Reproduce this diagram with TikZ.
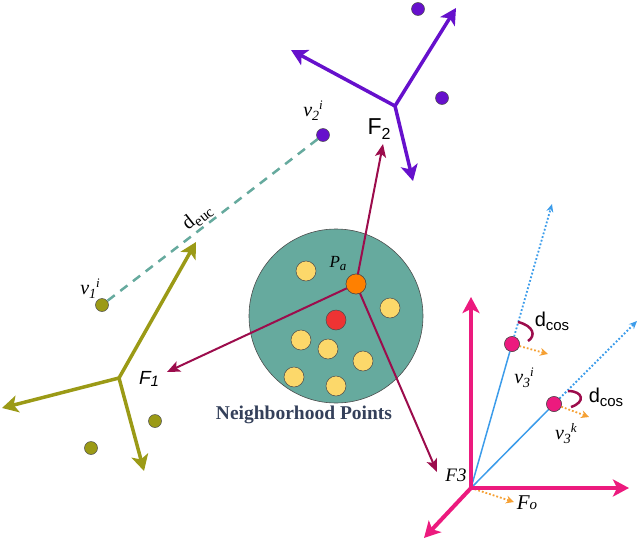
\documentclass[tikz,border=0pt]{standalone}
\usepackage{fontspec}
\setmainfont{Liberation Serif}
\setsansfont{Liberation Sans}
\usetikzlibrary{arrows.meta}
\definecolor{cPur}{HTML}{6610CC}
\definecolor{cOl}{HTML}{9B9A16}
\definecolor{cTeal}{HTML}{66AA9E}
\definecolor{cMar}{HTML}{9C0C4C}
\definecolor{cPink}{HTML}{EC1A7E}
\definecolor{cBlue}{HTML}{3C9CEA}
\definecolor{cOr}{HTML}{F5A033}
\definecolor{cYel}{HTML}{FCD86A}
\definecolor{cPa}{HTML}{FF8000}
\definecolor{cRed}{HTML}{EE3333}
\definecolor{cNb}{HTML}{34405A}
\newcommand{\vlab}[2]{\textit{v}\raisebox{-4pt}{\fontsize{14}{14}\selectfont\textit{#1}}\raisebox{7pt}{\fontsize{13}{13}\selectfont\textit{#2}}}
\tikzset{
  dot/.style={circle, draw=black!70, line width=0.5pt, inner sep=0pt},
  sdot/.style={dot, minimum size=13pt},
  bdot/.style={dot, minimum size=20pt},
  farrow/.style={line width=3.5pt, -{Stealth[length=16pt,width=17pt,inset=4pt]}},
  marrow/.style={cMar, line width=2pt, -{Stealth[length=13pt,width=11pt,inset=3pt]}},
  barrow/.style={cBlue, line width=1.5pt},
  bdotted/.style={cBlue, line width=1.8pt, dotted, -{Stealth[length=8pt,width=7pt]}},
  oarrow/.style={cOr, line width=1.8pt, dotted, -{Stealth[length=8pt,width=8pt]}},
  arcst/.style={cMar, line width=2.5pt},
  lab/.style={inner sep=0pt, font=\fontsize{20}{20}\selectfont}
}
\begin{document}
\begin{tikzpicture}[x=1pt,y=-1pt]
\useasboundingbox (0,0) rectangle (640,541);
% neighborhood circle
\node[circle, draw=black!70, line width=0.6pt, fill=cTeal, minimum size=174pt, inner sep=0pt] (nb) at (336,316) {};
\node[font=\fontsize{19.5}{19.5}\selectfont\bfseries, text=cNb, inner sep=0pt] (nbl) at (304,415) {Neighborhood Points};

% coordinates of frame centres and arrow ends
\coordinate (F2c) at (395,106);
\coordinate (F1c) at (119,378);
\coordinate (F3c) at (471,488);
\coordinate (F2a) at (291,50);
\coordinate (F2b) at (456,8);
\coordinate (F2d) at (413,181);
\coordinate (F1a) at (196,242);
\coordinate (F1b) at (2,408);
\coordinate (F1d) at (144,471);
\coordinate (F3a) at (471,297);
\coordinate (F3b) at (629,488);
\coordinate (F3d) at (424,538);
\coordinate (m2) at (383,144);
\coordinate (m1) at (167,372);
\coordinate (m3) at (437,472);
\coordinate (e1) at (552,204);
\coordinate (e2) at (637,321);
\coordinate (o1) at (548,354);
\coordinate (o2) at (589,417);
\coordinate (o3) at (514,502);

% Pa node
\node[bdot, fill=cPa] (pa) at (356,284) {};
\draw[marrow] (pa.center) -- (m2);
\draw[marrow] (pa.center) -- (m1);
\draw[marrow] (pa.center) -- (m3);
\node[bdot, fill=cPa] (pa2) at (356,284) {};
\node[lab, font=\fontsize{17}{17}\selectfont] (pal) at (338,263) {\textit{P}\raisebox{-3pt}{\fontsize{13}{13}\selectfont\textit{a}}};

% inner points
\node[bdot, fill=cRed] (r) at (336,320) {};
\node[bdot, fill=cYel] (y1) at (306,271) {};
\node[bdot, fill=cYel] (y2) at (390,308) {};
\node[bdot, fill=cYel] (y3) at (301,340) {};
\node[bdot, fill=cYel] (y4) at (328,349) {};
\node[bdot, fill=cYel] (y5) at (363,361) {};
\node[bdot, fill=cYel] (y6) at (294,377) {};
\node[bdot, fill=cYel] (y7) at (336,386) {};

% purple frame F2
\draw[farrow, cPur] (F2c) -- (F2a);
\draw[farrow, cPur] (F2c) -- (F2b);
\draw[farrow, cPur] (F2c) -- (F2d);
\node[sdot, fill=cPur] (p1) at (418,9) {};
\node[sdot, fill=cPur] (p2) at (442,98) {};
\node[sdot, fill=cPur] (v2) at (323,135) {};
\node[lab] (v2l) at (313,111) {\vlab{2}{i}};
\node[lab, font=\sffamily\fontsize{23}{23}\selectfont] (F2l) at (379,129) {F\raisebox{-5pt}{\fontsize{16}{16}\selectfont 2}};

% olive frame F1
\draw[farrow, cOl] (F1c) -- (F1a);
\draw[farrow, cOl] (F1c) -- (F1b);
\draw[farrow, cOl] (F1c) -- (F1d);
\node[sdot, fill=cOl] (v1) at (102,305) {};
\node[sdot, fill=cOl] (q1) at (155,421) {};
\node[sdot, fill=cOl] (q2) at (91,448) {};
\node[lab] (v1l) at (90,289) {\vlab{1}{i}};
\node[lab, font=\sffamily\itshape\fontsize{19}{19}\selectfont] (F1l) at (149,379) {F\raisebox{-2pt}{\fontsize{15}{15}\selectfont 1}};

% euclidean distance
\draw[cTeal, line width=2.5pt, dash pattern=on 9pt off 7pt] (v2) -- (v1);
\node[lab, rotate=38, anchor=south, font=\fontsize{20}{20}\selectfont] (del) at (203,224) {d\raisebox{-4pt}{\fontsize{15}{15}\selectfont euc}};

% pink frame F3 with blue lines
\node[dot, minimum size=15pt, fill=cPink] (v3i) at (512,344) {};
\node[dot, minimum size=15pt, fill=cPink] (v3k) at (554,404) {};
\draw[barrow] (F3c) -- (v3i);
\draw[barrow] (F3c) -- (v3k);
\draw[bdotted] (v3i) -- (e1);
\draw[bdotted] (v3k) -- (e2);
\draw[oarrow] (v3i) -- (o1);
\draw[oarrow] (v3k) -- (o2);
\draw[oarrow] (F3c) -- (o3);
\draw[farrow, cPink, line width=4pt] (F3c) -- (F3a);
\draw[farrow, cPink, line width=4pt] (F3c) -- (F3b);
\draw[farrow, cPink, line width=4pt] (F3c) -- (F3d);
\node[dot, minimum size=15pt, fill=cPink] (v3i2) at (512,344) {};
\node[dot, minimum size=15pt, fill=cPink] (v3k2) at (554,404) {};
\node[lab] (v3il) at (524,378) {\vlab{3}{i}};
\node[lab] (v3kl) at (566,434) {\vlab{3}{k}};
\node[lab, font=\itshape\fontsize{19}{19}\selectfont] (F3l) at (456,475) {F3};
\node[lab, font=\itshape\fontsize{21}{21}\selectfont] (Fol) at (527,503) {F\fontsize{15}{15}\selectfont o};

% cosine distance arcs
\draw[arcst] (518,322) .. controls (534,326) and (536,336) .. (528,341);
\draw[arcst] (568,391) .. controls (583,391) and (586,402) .. (571,407);
\node[lab, font=\sffamily\fontsize{20}{20}\selectfont] (dc1) at (552,321) {d\raisebox{-4pt}{\fontsize{15}{15}\selectfont cos}};
\node[lab, font=\sffamily\fontsize{20}{20}\selectfont] (dc2) at (606,397) {d\raisebox{-4pt}{\fontsize{15}{15}\selectfont cos}};
\end{tikzpicture}
\end{document}
